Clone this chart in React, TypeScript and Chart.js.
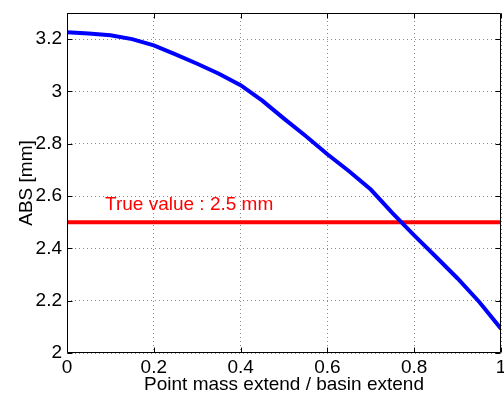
import React, { useEffect, useRef } from "react";
import { Chart, registerables } from "chart.js";

Chart.register(...registerables);

const extentRatio = [0, 0.05, 0.1, 0.15, 0.2, 0.25, 0.3, 0.35, 0.4, 0.45, 0.5, 0.55, 0.6, 0.65, 0.7, 0.75, 0.8, 0.85, 0.9, 0.95, 1.0];
const absValues = [3.226, 3.222, 3.215, 3.2, 3.176, 3.142, 3.106, 3.068, 3.024, 2.965, 2.896, 2.83, 2.76, 2.695, 2.625, 2.535, 2.45, 2.368, 2.285, 2.195, 2.093];
const trueValue = 2.5;
const trueRange = [0, 1];
const trueLabel = "True value : 2.5 mm";
const xTitle = "Point mass extend / basin extend";
const yTitle = "ABS [mm]";

const FONT = '"Liberation Sans", Arial, Helvetica, sans-serif';
const FS = 19;

const matlabAxes = {
  id: "matlabAxes",
  afterDatasetsDraw(chart: any) {
    const { ctx, chartArea: a, scales } = chart;
    ctx.save();
    ctx.fillStyle = "#ff0000";
    ctx.font = `${FS}px ${FONT}`;
    ctx.textAlign = "left";
    ctx.textBaseline = "alphabetic";
    ctx.fillText(trueLabel, scales.x.getPixelForValue(0.0876), scales.y.getPixelForValue(2.545));
    const l = Math.round(a.left) + 0.5;
    const r = Math.round(a.right) - 0.5;
    const t = Math.round(a.top) + 0.5;
    const b = Math.round(a.bottom) - 0.5;
    ctx.strokeStyle = "#000";
    ctx.lineWidth = 1;
    ctx.beginPath();
    ctx.rect(l, t, r - l, b - t);
    const len = 5;
    scales.x.ticks.forEach((tk: any) => {
      const px = Math.round(scales.x.getPixelForValue(tk.value)) + 0.5;
      ctx.moveTo(px, b);
      ctx.lineTo(px, b - len);
      ctx.moveTo(px, t);
      ctx.lineTo(px, t + len);
    });
    scales.y.ticks.forEach((tk: any) => {
      const py = Math.round(scales.y.getPixelForValue(tk.value)) + 0.5;
      ctx.moveTo(l, py);
      ctx.lineTo(l + len, py);
      ctx.moveTo(r, py);
      ctx.lineTo(r - len, py);
    });
    ctx.stroke();
    ctx.restore();
  },
};

export default function App() {
  const ref = useRef<HTMLCanvasElement | null>(null);
  useEffect(() => {
    if (!ref.current) return;
    const chart = new Chart(ref.current, {
      type: "line",
      data: {
        datasets: [
          {
            data: extentRatio.map((x, i) => ({ x, y: absValues[i] })),
            borderColor: "#0000ff",
            borderWidth: 4,
            pointRadius: 0,
            tension: 0,
            fill: false,
          },
          {
            data: trueRange.map((x) => ({ x, y: trueValue })),
            borderColor: "#ff0000",
            borderWidth: 4,
            pointRadius: 0,
            fill: false,
          },
        ],
      },
      options: {
        animation: false,
        responsive: false,
        layout: { padding: { top: 13, right: 3, bottom: 0, left: 0 } },
        plugins: { legend: { display: false }, tooltip: { enabled: false } },
        scales: {
          x: {
            type: "linear",
            min: 0,
            max: 1,
            ticks: {
              stepSize: 0.2,
              color: "#000",
              font: { family: FONT, size: FS },
              padding: 3,
              maxRotation: 0,
              autoSkip: false,
              callback: (v: any) => String(+Number(v).toFixed(2)),
            },
            grid: { color: "#888", lineWidth: 1, drawTicks: false },
            border: { display: false, dash: [1, 3] },
            title: {
              display: true,
              text: xTitle,
              color: "#000",
              font: { family: FONT, size: FS },
              padding: 2,
            },
            afterFit: (s: any) => {
              s.height = 45;
              s.paddingLeft = 0;
              s.paddingRight = 0;
            },
          },
          y: {
            type: "linear",
            min: 2,
            max: 3.3,
            ticks: {
              stepSize: 0.2,
              includeBounds: false,
              color: "#000",
              font: { family: FONT, size: FS },
              padding: 5,
              autoSkip: false,
              callback: (v: any) => String(+Number(v).toFixed(2)),
            },
            grid: { color: "#888", lineWidth: 1, drawTicks: false },
            border: { display: false, dash: [1, 3] },
            title: {
              display: true,
              text: yTitle,
              color: "#000",
              font: { family: FONT, size: FS },
              padding: 15,
            },
            afterFit: (s: any) => {
              s.width = 67;
              s.paddingTop = 0;
              s.paddingBottom = 0;
            },
          },
        },
      },
      plugins: [matlabAxes],
    });
    return () => chart.destroy();
  }, []);
  return (
    <div style={{ position: "absolute", left: 0, top: 0, width: 504, height: 398, background: "#fff" }}>
      <canvas ref={ref} width={504} height={398} style={{ display: "block" }} />
    </div>
  );
}
